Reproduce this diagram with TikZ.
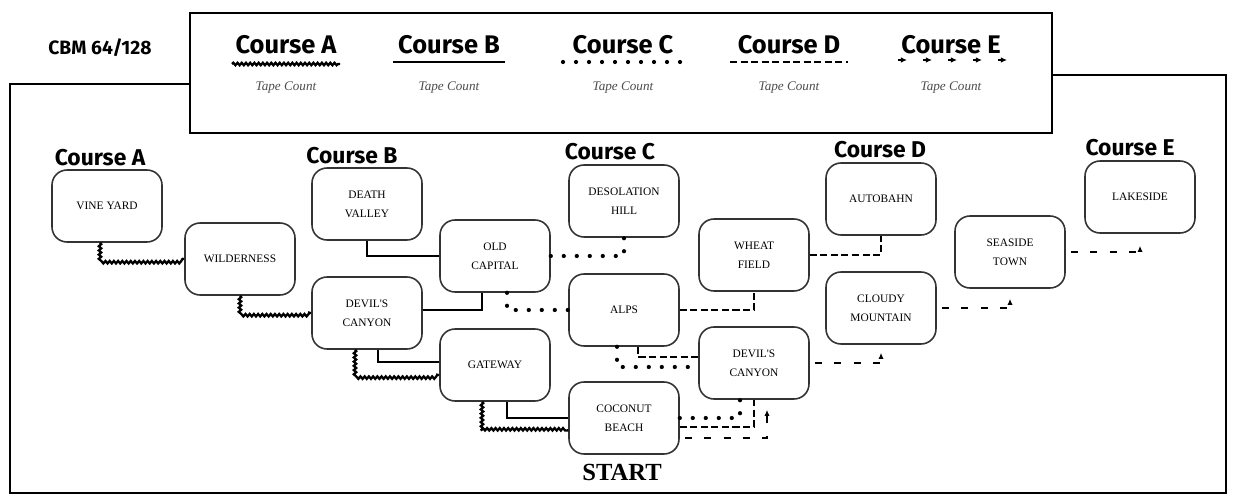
\documentclass[tikz,border=0pt]{standalone}
\usepackage{fontspec}
\usetikzlibrary{decorations.pathmorphing,arrows.meta}
\newfontfamily\sanslabel{Fira Sans}
\newfontfamily\placefont{Liberation Serif}

\tikzset{
  place/.style={draw=black!80, line width=0.9pt, rounded corners=0.3cm,
    minimum width=2.2cm, minimum height=1.44cm, align=center, inner sep=1pt,
    font=\placefont\fontsize{6.5}{11}\selectfont},
  courseA/.style={line width=1.3pt, decorate,
    decoration={snake, amplitude=0.7pt, segment length=2.4pt}},
  courseB/.style={line width=1.2pt},
  courseC/.style={line width=2.4pt, line cap=round, dash pattern=on 0pt off 7.4pt},
  courseD/.style={line width=1.2pt, dash pattern=on 4pt off 2pt},
  courseE/.style={line width=1.3pt, dash pattern=on 4pt off 7pt,
    shorten <=3pt, -{Latex[length=3.5pt,width=3pt]}},
  coursehead/.style={font=\sanslabel\bfseries\fontsize{13}{13}\selectfont},
  tape/.style={font=\placefont\itshape\fontsize{7.5}{8}\selectfont, text=black!70}
}

\begin{document}
\begin{tikzpicture}[x=0.02cm,y=-0.02cm]
\useasboundingbox (0,0) rectangle (1240,497);

% frame and legend box
\draw[line width=1.2pt] (190,84) -- (10,84) -- (10,493) -- (1226,493) -- (1226,75) -- (1052,75);
\draw[line width=1.3pt] (190,13) rectangle (1052,133);
\node[font=\sanslabel\bfseries\fontsize{11}{11}\selectfont] (cbm) at (100,48) {CBM 64/128};

% legend
\foreach \c/\x in {A/286,B/449,C/623,D/789,E/951}{
  \node[coursehead, font=\sanslabel\bfseries\fontsize{14.5}{14.5}\selectfont] (leg\c) at (\x,45) {Course \c};
  \node[tape] (tape\c) at (\x,88) {Tape Count};
}
\draw[courseA] (232,64) -- (340,64);
\draw[courseB] (393,62) -- (505,62);
\draw[courseC] (563,62) -- (683,62);
\draw[courseD] (730,62) -- (848,62);
\foreach \i in {0,...,4}
  \draw[line width=1.3pt, -{Latex[length=3.5pt,width=3.2pt]}] (898+25*\i,60) -- +(9,0);

% course headings
\node[coursehead] (headA) at (100,158) {Course A};
\node[coursehead] (headB) at (352,156) {Course B};
\node[coursehead] (headC) at (610,152) {Course C};
\node[coursehead] (headD) at (880,150) {Course D};
\node[coursehead] (headE) at (1130,148) {Course E};

% places
\node[place] (vine) at (107,206) {VINE YARD};
\node[place] (wild) at (240,259) {WILDERNESS};
\node[place] (death) at (367,204) {DEATH\\VALLEY};
\node[place] (devilB) at (367,313) {DEVIL'S\\CANYON};
\node[place] (oldcap) at (495,256) {OLD\\CAPITAL};
\node[place] (gate) at (495,365) {GATEWAY};
\node[place] (desol) at (624,201) {DESOLATION\\HILL};
\node[place] (alps) at (624,310) {ALPS};
\node[place] (coco) at (624,418) {COCONUT\\BEACH};
\node[place] (wheat) at (754,255) {WHEAT\\FIELD};
\node[place] (devilD) at (754,363) {DEVIL'S\\CANYON};
\node[place] (auto) at (881,199) {AUTOBAHN};
\node[place] (cloudy) at (881,308) {CLOUDY\\MOUNTAIN};
\node[place] (seaside) at (1010,252) {SEASIDE\\TOWN};
\node[place] (lake) at (1140,197) {LAKESIDE};
\node[font=\placefont\bfseries\fontsize{14}{14}\selectfont] (start) at (622,472) {START};

% course A
\draw[courseA] ([xshift=-0.14cm]vine.south) |- (wild.west);
\draw[courseA] (wild.south) |- (devilB.west);
\draw[courseA] ([xshift=-0.24cm]devilB.south) |- ([yshift=-0.2cm]gate.west);
\draw[courseA] ([xshift=-0.26cm]gate.south) |- ([yshift=-0.24cm]coco.west);
% course B
\draw[courseB] (death.south) |- (oldcap.west);
\draw[courseB] ([xshift=-0.26cm]oldcap.south) |- ([yshift=0.06cm]devilB.east);
\draw[courseB] ([xshift=0.22cm]devilB.south) |- ([yshift=0.06cm]gate.west);
\draw[courseB] ([xshift=0.24cm]gate.south) |- (coco.west);
% course C
\draw[courseC] (oldcap.east) -| (desol.south);
\draw[courseC] ([xshift=0.24cm]oldcap.south) |- (alps.west);
\draw[courseC] ([xshift=-0.14cm]alps.south) |- ([yshift=-0.08cm]devilD.west);
\draw[courseC] (coco.east) -| ([xshift=-0.28cm]devilD.south);
% course D
\draw[courseD] ([yshift=-0.18cm]coco.east) -| (devilD.south);
\draw[courseD] ([yshift=0.12cm]devilD.west) -| ([xshift=0.28cm]alps.south);
\draw[courseD] (alps.east) -| (wheat.south);
\draw[courseD] (wheat.east) -| (auto.south);
% course E
\draw[courseE] ([yshift=-0.4cm]coco.east) -| ([xshift=0.26cm,yshift=-0.2cm]devilD.south);
\draw[courseE] (devilD.east) -| ([yshift=-0.16cm]cloudy.south);
\draw[courseE] (cloudy.east) -| ([yshift=-0.2cm]seaside.south);
\draw[courseE] (seaside.east) -| ([yshift=-0.24cm]lake.south);
\end{tikzpicture}
\end{document}
